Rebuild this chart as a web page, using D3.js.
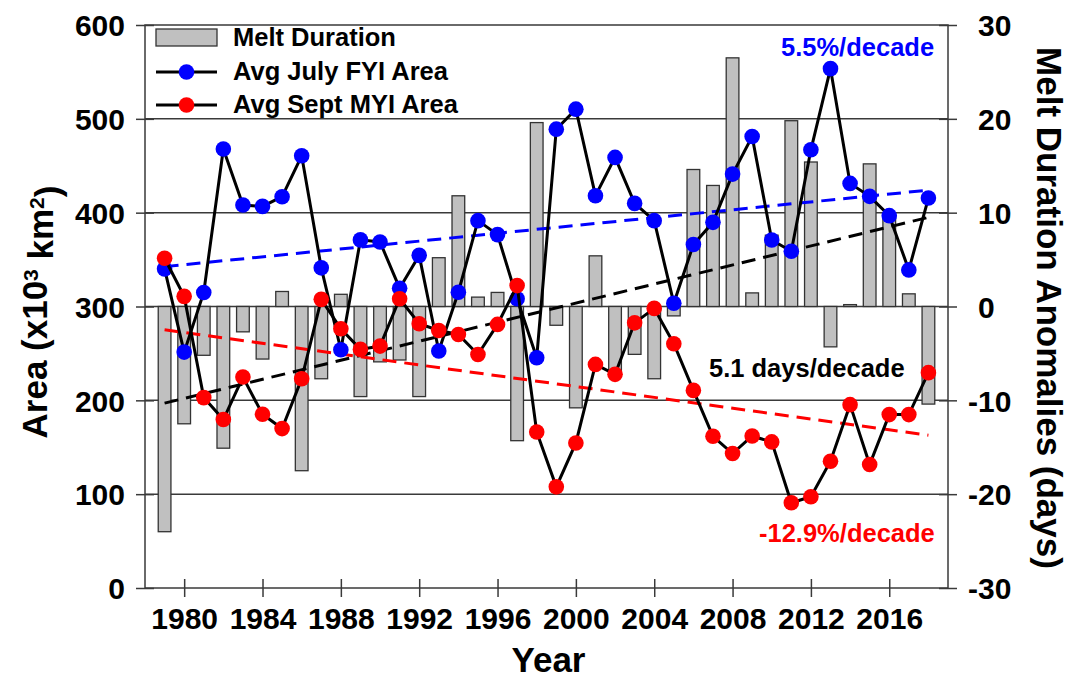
<!DOCTYPE html>
<html>
<head>
<meta charset="utf-8">
<script src="https://cdn.jsdelivr.net/npm/d3@7"></script>
<style>
  html, body { margin: 0; padding: 0; background: #fff; }
  svg { display: block; }
  text { font-family: "Liberation Sans", Arial, Helvetica, sans-serif; font-weight: bold; }
</style>
</head>
<body>
<svg id="chart" width="1072" height="680"></svg>
<script>
// Years of record
const years = d3.range(1979, 2019);

// Average July first-year ice area (x10^3 km^2)
const fyiArea = [340.1, 251.4, 315.0, 467.8, 408.2, 406.7, 417.0, 460.6, 341.2, 253.9,
                 371.0, 368.8, 319.5, 354.5, 252.5, 315.2, 391.5, 376.6, 308.2, 245.4,
                 489.0, 510.3, 418.1, 458.9, 409.9, 391.5, 303.5, 366.0, 389.7, 441.1,
                 481.2, 370.9, 358.9, 467.0, 553.5, 431.2, 417.4, 396.8, 339.0, 415.6];

// Average September multiyear ice area (x10^3 km^2)
const myiArea = [351.4, 310.8, 202.9, 179.5, 224.8, 185.1, 169.9, 223.0, 307.6, 276.3,
                 254.3, 257.8, 308.3, 281.6, 274.5, 270.2, 248.9, 280.9, 322.3, 166.3,
                 107.8, 154.6, 238.3, 227.7, 282.6, 298.0, 260.3, 210.6, 161.7, 143.3,
                 162.0, 155.7, 90.8, 97.2, 135.1, 195.4, 131.6, 184.8, 184.8, 229.5];

// Melt duration anomalies (days)
const meltAnomaly = [-24.0, -12.5, -5.2, -15.1, -2.7, -5.6, 1.6, -17.5, -7.7, 1.3,
                     -9.6, -5.9, -5.7, -9.6, 5.2, 11.8, 1.0, 1.5, -14.3, 19.6,
                     -2.0, -10.8, 5.4, -7.0, -5.1, -7.7, -1.0, 14.6, 12.9, 26.5,
                     1.45, 7.6, 19.8, 15.4, -4.3, 0.2, 15.2, 9.5, 1.35, -10.4];

// Linear trends (endpoints, first and last year)
const trendYears = [1979, 2018];
const fyiTrend = [342.5, 424.0];
const myiTrend = [275.2, 162.8];
const meltTrend = [-10.3, 9.5];

// Axis ticks
const areaTicks = [0, 100, 200, 300, 400, 500, 600];
const meltTicks = [-30, -20, -10, 0, 10, 20, 30];
const yearTicks = d3.range(1980, 2017, 4);

// Trend labels
const fyiLabel = "5.5%/decade";
const myiLabel = "-12.9%/decade";
const meltLabel = "5.1 days/decade";

const svg = d3.select("#chart");
const L = 145, R = 948, T = 25, B = 588;

const x = d3.scaleLinear().domain([1978, 2019]).range([L, R]);
const yA = d3.scaleLinear().domain([0, 600]).range([B, T]);
const yM = d3.scaleLinear().domain([-30, 30]).range([B, T]);

const axisColor = "#3a3a3a";
const barW = 12.7;

// Horizontal grid lines
svg.append("g").selectAll("line")
  .data(areaTicks.filter(v => v > 0 && v < 600))
  .join("line")
  .attr("x1", L).attr("x2", R)
  .attr("y1", d => yA(d)).attr("y2", d => yA(d))
  .attr("stroke", axisColor).attr("stroke-width", 1.5);

// Melt duration bars (right axis)
svg.append("g").selectAll("rect")
  .data(years.map((yr, i) => ({ yr, v: meltAnomaly[i] })))
  .join("rect")
  .attr("x", d => x(d.yr) - barW / 2)
  .attr("width", barW)
  .attr("y", d => Math.min(yM(d.v), yM(0)))
  .attr("height", d => Math.abs(yM(d.v) - yM(0)))
  .attr("fill", "#c0c0c0")
  .attr("stroke", "#333")
  .attr("stroke-width", 1.3);

// Trend lines
const dash = "14,8";
function trend(vals, scale, color) {
  svg.append("line")
    .attr("x1", x(trendYears[0])).attr("y1", scale(vals[0]))
    .attr("x2", x(trendYears[1])).attr("y2", scale(vals[1]))
    .attr("stroke", color).attr("stroke-width", 3)
    .attr("stroke-dasharray", dash);
}
trend(fyiTrend, yA, "#0000ff");
trend(myiTrend, yA, "#ff0000");
trend(meltTrend, yM, "#000000");

// Area series: connecting lines and markers
const line = d3.line().x((d, i) => x(years[i])).y(d => yA(d));
function series(vals, color) {
  svg.append("path").datum(vals)
    .attr("d", line).attr("fill", "none")
    .attr("stroke", "#000").attr("stroke-width", 3);
  svg.append("g").selectAll("circle").data(vals).join("circle")
    .attr("cx", (d, i) => x(years[i])).attr("cy", d => yA(d))
    .attr("r", 7.8).attr("fill", color);
}
series(fyiArea, "#0000ff");
series(myiArea, "#ff0000");

// Plot frame
svg.append("rect")
  .attr("x", L).attr("y", T).attr("width", R - L).attr("height", B - T)
  .attr("fill", "none").attr("stroke", axisColor).attr("stroke-width", 1.5);

// Left axis
const gL = svg.append("g").attr("transform", `translate(${L},0)`)
  .call(d3.axisLeft(yA).tickValues(areaTicks).tickSize(9).tickPadding(20));
gL.select(".domain").remove();
gL.selectAll(".tick line").attr("x1", -9).attr("x2", 9).attr("stroke", axisColor).attr("stroke-width", 1.5);
gL.selectAll(".tick text").attr("x", -20).attr("dy", "0.36em")
  .style("font-size", "30px").attr("fill", "#000");

// Right axis
const gR = svg.append("g").attr("transform", `translate(${R},0)`)
  .call(d3.axisRight(yM).tickValues(meltTicks).tickSize(9));
gR.select(".domain").remove();
gR.selectAll(".tick line").attr("x1", -9).attr("x2", 9).attr("stroke", axisColor).attr("stroke-width", 1.5);
gR.selectAll(".tick text")
  .attr("text-anchor", "start")
  .attr("x", d => d < 0 ? 20 : 30)
  .attr("dy", "0.36em")
  .text(d => d < 0 ? "-" + Math.abs(d) : String(d))
  .style("font-size", "30px").attr("fill", "#000");

// Bottom axis
const gB = svg.append("g").attr("transform", `translate(0,${B})`)
  .call(d3.axisBottom(x).tickValues(yearTicks).tickFormat(d3.format("d")).tickSize(9));
gB.select(".domain").remove();
gB.selectAll(".tick line").attr("y1", -9).attr("y2", 9).attr("stroke", axisColor).attr("stroke-width", 1.5);
gB.selectAll(".tick text").attr("y", 41).attr("dy", 0)
  .style("font-size", "30px").attr("fill", "#000");

// Axis titles
svg.append("text")
  .attr("x", (L + R) / 2 + 2).attr("y", 672)
  .attr("text-anchor", "middle").style("font-size", "35px")
  .text("Year");

const leftTitle = svg.append("text")
  .attr("transform", "translate(47,312) rotate(-90)")
  .attr("text-anchor", "middle").style("font-size", "35px");
leftTitle.append("tspan").text("Area (x10");
leftTitle.append("tspan").attr("dy", "-0.45em").style("font-size", "21px").text("3");
leftTitle.append("tspan").attr("dy", "0.45em").text(" km");
leftTitle.append("tspan").attr("dy", "-0.45em").style("font-size", "21px").text("2");
leftTitle.append("tspan").attr("dy", "0.45em").text(")");

svg.append("text")
  .attr("transform", "translate(1037,308) rotate(90)")
  .attr("text-anchor", "middle").style("font-size", "35px")
  .text("Melt Duration Anomalies (days)");

// Trend annotations
svg.append("text").attr("x", 781).attr("y", 56)
  .style("font-size", "25.5px").attr("fill", "#0000ff").text(fyiLabel);
svg.append("text").attr("x", 709).attr("y", 377)
  .style("font-size", "25.5px").attr("fill", "#000").text(meltLabel);
svg.append("text").attr("x", 759).attr("y", 542)
  .style("font-size", "25.5px").attr("fill", "#ff0000").text(myiLabel);

// Legend
const lg = svg.append("g");
lg.append("rect").attr("x", 156).attr("y", 29).attr("width", 61).attr("height", 17)
  .attr("fill", "#c0c0c0").attr("stroke", "#333").attr("stroke-width", 1.3);
lg.append("text").attr("x", 233).attr("y", 46).style("font-size", "25.5px").text("Melt Duration");
[["Avg July FYI Area", "#0000ff", 72, 80], ["Avg Sept MYI Area", "#ff0000", 105, 113]]
  .forEach(([label, color, ly, ty]) => {
    lg.append("line").attr("x1", 156).attr("x2", 217).attr("y1", ly).attr("y2", ly)
      .attr("stroke", "#000").attr("stroke-width", 3);
    lg.append("circle").attr("cx", 186.5).attr("cy", ly).attr("r", 7.8).attr("fill", color);
    lg.append("text").attr("x", 233).attr("y", ty).style("font-size", "25.5px").text(label);
  });
</script>
</body>
</html>
